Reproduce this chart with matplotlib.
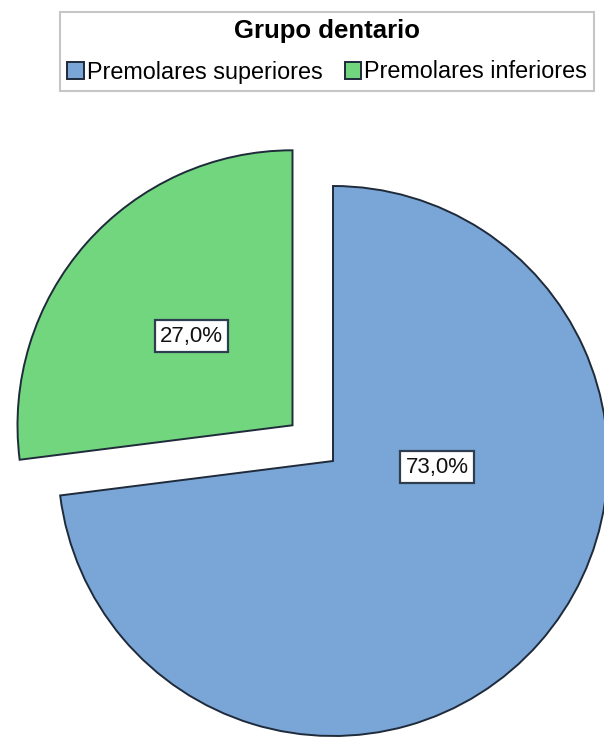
import matplotlib
matplotlib.use("Agg")
import matplotlib.pyplot as plt
from matplotlib.patches import Patch

plt.rcParams['font.family'] = ['Liberation Sans', 'DejaVu Sans']

categories = ["Premolares superiores", "Premolares inferiores"]
values = [73.0, 27.0]
colors = ["#79A6D6", "#71D67D"]
edge = "#1F2A3A"
legend_title = "Grupo dentario"

W, H = 604, 740
fig = plt.figure(figsize=(W / 100, H / 100), dpi=100)
ax = fig.add_axes([0, 0, 1, 1])

radius = 275
center = (333, H - 461)
explode = [0, 54]  # offset in data units (pixels here)

wedges, texts, autotexts = ax.pie(
    values, colors=colors, startangle=90, counterclock=False,
    center=center, radius=radius, explode=explode,
    autopct=lambda p: f"{p:.1f}%".replace('.', ','), pctdistance=0.49,
    wedgeprops=dict(edgecolor=edge, linewidth=1.4), frame=True)
ax.set_xlim(0, W)
ax.set_ylim(0, H)
ax.set_aspect('equal')
ax.axis('off')

# the large slice's label sits to the right of its centre
autotexts[0].set_position((center[0] + 104, center[1] - 6))
for t in autotexts:
    t.set_fontsize(16)
    t.set_color('#111111')
    t.set_bbox(dict(boxstyle='square,pad=0.24', facecolor='white',
                    edgecolor='#2E3E50', linewidth=1.6))

handles = [Patch(facecolor=c, edgecolor=edge, linewidth=1.4) for c in colors]
leg = fig.legend(handles, categories, title=legend_title, ncol=2,
                 loc='upper center', bbox_to_anchor=(327 / W, 1 - 12 / H),
                 frameon=True, fancybox=False, fontsize=16.8,
                 title_fontproperties={'weight': 'bold', 'size': 18.5},
                 handlelength=0.72, handleheight=0.72, handletextpad=0.1,
                 columnspacing=0.95, borderpad=0.3, labelspacing=0.75,
                 borderaxespad=0)
leg.get_frame().set_edgecolor('#B8B8B8')
leg.get_frame().set_linewidth(1.5)

fig.savefig("out.png", dpi=100)
